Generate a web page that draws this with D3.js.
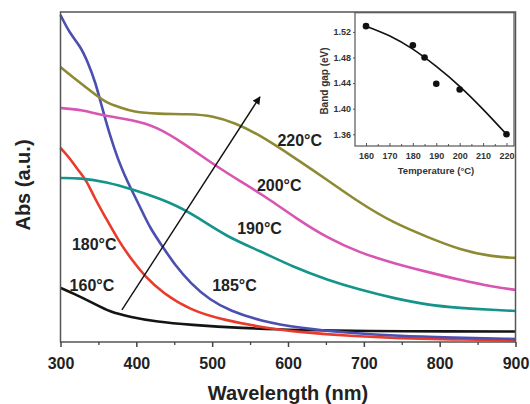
<!DOCTYPE html>
<html>
<head>
<meta charset="utf-8">
<script src="https://cdnjs.cloudflare.com/ajax/libs/d3/7.8.5/d3.min.js"></script>
<style>
body { margin: 0; background: #fff; }
text { font-family: "Liberation Sans", Arial, sans-serif; font-weight: bold; fill: #222; }
</style>
</head>
<body>
<svg id="chart"></svg>
<script>
'use strict'

// absorption spectra: wavelength (nm) / Abs (a.u.)
var wl160 = [300, 316, 343, 365, 392, 427, 471, 537, 616, 705, 814, 900];
var abs160 = [0.164, 0.148, 0.118, 0.091, 0.076, 0.061, 0.052, 0.042, 0.036, 0.033, 0.032, 0.032];

var wl180 = [300, 312, 323, 334, 345, 359, 376, 393, 412, 435, 471, 514, 572, 616, 682, 748, 814, 900];
var abs180 = [0.588, 0.558, 0.521, 0.491, 0.436, 0.379, 0.309, 0.252, 0.197, 0.148, 0.097, 0.067, 0.042, 0.030, 0.018, 0.011, 0.008, 0.005];

var wl185 = [300, 312, 326, 336, 346, 355, 365, 376, 385, 393, 405, 418, 435, 451, 471, 497, 524, 563, 616, 682, 748, 814, 900];
var abs185 = [0.991, 0.936, 0.897, 0.848, 0.788, 0.709, 0.627, 0.552, 0.503, 0.464, 0.409, 0.345, 0.288, 0.233, 0.179, 0.127, 0.094, 0.064, 0.042, 0.027, 0.018, 0.014, 0.009];

var wl190 = [300, 326, 361, 393, 448, 480, 520, 563, 607, 652, 695, 739, 784, 827, 871, 900];
var abs190 = [0.497, 0.497, 0.485, 0.464, 0.421, 0.379, 0.318, 0.276, 0.227, 0.188, 0.158, 0.133, 0.112, 0.103, 0.097, 0.094];

var wl200 = [300, 330, 352, 396, 427, 462, 507, 541, 577, 610, 652, 695, 739, 784, 827, 871, 900];
var abs200 = [0.709, 0.703, 0.688, 0.673, 0.652, 0.603, 0.530, 0.482, 0.430, 0.376, 0.315, 0.270, 0.239, 0.212, 0.188, 0.167, 0.158];

var wl220 = [300, 316, 343, 361, 378, 396, 427, 471, 501, 530, 563, 607, 652, 695, 739, 784, 827, 871, 900];
var abs220 = [0.833, 0.803, 0.755, 0.724, 0.712, 0.697, 0.691, 0.691, 0.685, 0.664, 0.627, 0.561, 0.491, 0.421, 0.361, 0.318, 0.279, 0.258, 0.255];

var seriesNames = ["160°C", "180°C", "185°C", "190°C", "200°C", "220°C"];
var xTicks = [300, 400, 500, 600, 700, 800, 900];
var xMinorTicks = [350, 450, 550, 650, 750, 850];

// inset: band gap vs temperature
var temps = [160, 180, 185, 190, 200, 220];
var gaps = [1.529, 1.499, 1.480, 1.439, 1.430, 1.360];
var fitTemps = [160, 170, 180, 190, 200, 210, 220];
var fitGaps = [1.529, 1.514, 1.493, 1.466, 1.435, 1.399, 1.360];
var insetXTicks = [160, 170, 180, 190, 200, 210, 220];
var insetYTicks = [1.36, 1.40, 1.44, 1.48, 1.52];

var Main = function () {

	var WIDTH = 530,
		HEIGHT = 404;

	var left = 60.5, right = 515.5, top = 12, bottom = 342;

	var colors = ["#141414", "#ea3a2c", "#4a4fb0", "#14948a", "#d855b2", "#8d8a33"];

	// label anchors (nm, a.u.) and the arrow
	var labelPos = [[312, 0.155], [315, 0.279], [500, 0.155], [533, 0.327], [559, 0.459], [586, 0.595]];
	var arrowFrom = [381, 0.097], arrowTo = [563, 0.743];

	this.initialize = function () {

		var svg = d3.select("#chart")
			.attr("width", WIDTH)
			.attr("height", HEIGHT)

		var x = d3.scaleLinear().domain([300, 900]).range([left, right])
		var y = d3.scaleLinear().domain([0, 1]).range([bottom, top])

		var series = [
			{ wl: wl160, abs: abs160 },
			{ wl: wl180, abs: abs180 },
			{ wl: wl185, abs: abs185 },
			{ wl: wl190, abs: abs190 },
			{ wl: wl200, abs: abs200 },
			{ wl: wl220, abs: abs220 }
		].map(function (s, i) {
			return {
				name: seriesNames[i],
				color: colors[i],
				pts: s.wl.map(function (w, j) { return [w, s.abs[j]]; })
			};
		});

		var line = d3.line()
			.x(function (d) { return x(d[0]); })
			.y(function (d) { return y(d[1]); })
			.curve(d3.curveBasis)

		svg.append("g")
			.selectAll("path")
			.data(series)
			.enter().append("path")
			.attr("d", function (d) { return line(d.pts); })
			.style("fill", "none")
			.style("stroke", function (d) { return d.color; })
			.style("stroke-width", 2.6)
			.style("stroke-linejoin", "round")

		// frame
		svg.append("rect")
			.attr("x", left)
			.attr("y", top)
			.attr("width", right - left)
			.attr("height", bottom - top)
			.style("fill", "none")
			.style("stroke", "#555")
			.style("stroke-width", 1.5)

		// x axis
		var xAxis = svg.append("g")
			.attr("transform", "translate(0," + bottom + ")")
			.call(d3.axisBottom(x).tickValues(xTicks).tickSize(5).tickSizeOuter(0).tickPadding(10.5))
		xAxis.select(".domain").remove()
		xAxis.selectAll("line").style("stroke", "#444").style("stroke-width", 1.5)
		xAxis.selectAll("text")
			.style("font-size", "16px")
			.style("font-family", "'Liberation Sans', Arial, sans-serif")
			.style("fill", "#222")

		var xMinor = svg.append("g")
			.attr("transform", "translate(0," + bottom + ")")
			.call(d3.axisBottom(x).tickValues(xMinorTicks).tickSize(3).tickFormat(""))
		xMinor.select(".domain").remove()
		xMinor.selectAll("line").style("stroke", "#444").style("stroke-width", 1.3)

		svg.append("text")
			.attr("x", (left + right) / 2)
			.attr("y", 400)
			.style("text-anchor", "middle")
			.style("font-size", "20px")
			.text("Wavelength (nm)")

		svg.append("text")
			.attr("transform", "translate(30,185) rotate(-90)")
			.style("text-anchor", "middle")
			.style("font-size", "20px")
			.text("Abs (a.u.)")

		// arrow
		svg.append("defs").append("marker")
			.attr("id", "head")
			.attr("viewBox", "0 0 10 10")
			.attr("refX", 9)
			.attr("refY", 5)
			.attr("markerWidth", 10)
			.attr("markerHeight", 8)
			.attr("markerUnits", "userSpaceOnUse")
			.attr("orient", "auto")
			.append("path")
			.attr("d", "M0,0 L10,5 L0,10 Z")
			.style("fill", "#111")

		svg.append("line")
			.attr("x1", x(arrowFrom[0]))
			.attr("y1", y(arrowFrom[1]))
			.attr("x2", x(arrowTo[0]))
			.attr("y2", y(arrowTo[1]))
			.style("stroke", "#111")
			.style("stroke-width", 1.4)
			.attr("marker-end", "url(#head)")

		// series labels
		svg.append("g")
			.selectAll("text")
			.data(series)
			.enter().append("text")
			.attr("x", function (d, i) { return x(labelPos[i][0]); })
			.attr("y", function (d, i) { return y(labelPos[i][1]); })
			.style("font-size", "16px")
			.text(function (d) { return d.name; })

		drawInset(svg)
	}

	function drawInset(svg) {

		var iL = 355, iR = 514, iT = 12.7, iB = 146;

		var ix = d3.scaleLinear().domain([155.3, 223.2]).range([iL, iR])
		var iy = d3.scaleLinear().domain([1.3417, 1.550]).range([iB, iT])

		var g = svg.append("g")

		g.append("rect")
			.attr("x", iL)
			.attr("y", iT)
			.attr("width", iR - iL)
			.attr("height", iB - iT)
			.style("fill", "#fff")
			.style("stroke", "#555")
			.style("stroke-width", 1.2)

		var ax = g.append("g")
			.attr("transform", "translate(0," + iB + ")")
			.call(d3.axisBottom(ix).tickValues(insetXTicks).tickSize(-3).tickSizeOuter(0).tickPadding(7))
		ax.select(".domain").remove()

		var axm = g.append("g")
			.attr("transform", "translate(0," + iB + ")")
			.call(d3.axisBottom(ix).tickValues(d3.range(165, 220, 10)).tickSize(-2).tickFormat(""))
		axm.select(".domain").remove()

		var ay = g.append("g")
			.attr("transform", "translate(" + iL + ",0)")
			.call(d3.axisLeft(iy).tickValues(insetYTicks).tickFormat(d3.format(".2f")).tickSize(2).tickSizeOuter(0).tickPadding(2))
		ay.select(".domain").remove()

		g.selectAll(".tick line").style("stroke", "#555").style("stroke-width", 1)
		g.selectAll(".tick text")
			.style("font-size", "9px")
			.style("font-family", "'Liberation Sans', Arial, sans-serif")
			.style("fill", "#333")

		g.append("text")
			.attr("transform", "translate(328,81) rotate(-90)")
			.style("text-anchor", "middle")
			.style("font-size", "10px")
			.style("fill", "#333")
			.text("Band gap (eV)")

		g.append("text")
			.attr("x", 436)
			.attr("y", 174)
			.style("text-anchor", "middle")
			.style("font-size", "9.5px")
			.style("fill", "#333")
			.text("Temperature (°C)")

		var fit = d3.line()
			.x(function (d) { return ix(d); })
			.y(function (d, i) { return iy(fitGaps[i]); })
			.curve(d3.curveNatural)

		g.append("path")
			.attr("d", fit(fitTemps))
			.style("fill", "none")
			.style("stroke", "#111")
			.style("stroke-width", 1.6)

		g.selectAll("circle")
			.data(temps)
			.enter().append("circle")
			.attr("cx", function (d) { return ix(d); })
			.attr("cy", function (d, i) { return iy(gaps[i]); })
			.attr("r", 3.3)
			.style("fill", "#111")
	}

}

new Main().initialize()
</script>
</body>
</html>
